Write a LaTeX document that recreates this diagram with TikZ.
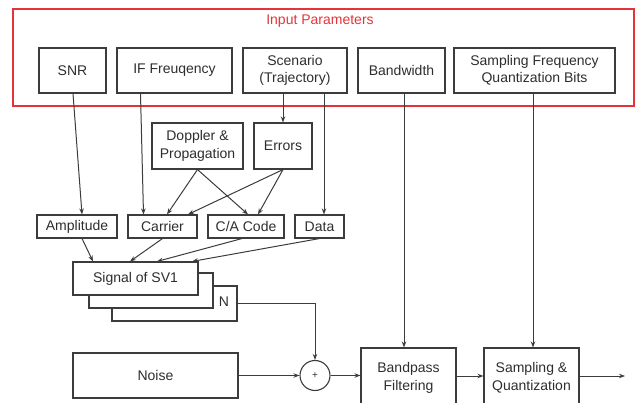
\documentclass[tikz,border=0pt]{standalone}
\usepackage{fontspec}
\setmainfont{Liberation Sans}
\usetikzlibrary{arrows.meta,calc}
\definecolor{ln}{HTML}{3C3C3C}
\definecolor{tx}{HTML}{2E2E2E}
\definecolor{rd}{HTML}{E4343A}
\tikzset{
  box/.style={draw=ln, line width=1.1pt, fill=white, inner sep=0pt, align=center, text=tx,
    font=\fontsize{14}{17.5}\selectfont},
  arr/.style={draw=ln, line width=1pt, -{Stealth[length=6pt,width=4.5pt]}},
}
\begin{document}
\begin{tikzpicture}[x=1pt,y=-1pt]
\useasboundingbox (0,0) rectangle (640,403);
\clip (0,0) rectangle (640,403);
% input parameters frame
\node[draw=rd, line width=1.6pt, minimum width=621pt, minimum height=97pt, inner sep=0pt] (frame) at (323.5,57.5) {};
\node[text=rd, font=\fontsize{14}{17}\selectfont, inner sep=0pt] (title) at (320,21) {Input Parameters};
% top boxes
\node[box, minimum width=67pt, minimum height=45pt] (snr) at (72.5,70.5) {SNR};
\node[box, minimum width=115pt, minimum height=45pt] (if) at (174.5,70.5) {IF Freuqency};
\node[box, minimum width=104pt, minimum height=45pt] (scen) at (295,70.5) {Scenario\\(Trajectory)};
\node[box, minimum width=87pt, minimum height=45pt] (bw) at (401.5,70.5) {Bandwidth};
\node[box, minimum width=161pt, minimum height=45pt] (sf) at (534.5,70.5) {Sampling Frequency\\Quantization Bits};
% middle boxes
\node[box, minimum width=91pt, minimum height=46pt] (dop) at (197.5,146) {Doppler \&\\Propagation};
\node[box, minimum width=58pt, minimum height=46pt] (err) at (283,146) {Errors};
\node[box, minimum width=80pt, minimum height=23pt] (amp) at (77,226.5) {Amplitude};
\node[box, minimum width=69pt, minimum height=23pt] (car) at (162.5,226.5) {Carrier};
\node[box, minimum width=76pt, minimum height=23pt] (ca) at (246,226.5) {C/A Code};
\node[box, minimum width=49pt, minimum height=23pt] (data) at (319.5,226.5) {Data};
% signal stack
\node[box, minimum width=125pt, minimum height=35pt] (sig3) at (174.5,303.5) {};
\node[box, minimum width=124pt, minimum height=35pt] (sig2) at (151,290.5) {};
\node[box, minimum width=125pt, minimum height=33pt] (sig1) at (135.5,278.5) {Signal of SV1};
\node[text=tx, font=\fontsize{14}{17}\selectfont, inner sep=0pt] (nlab) at (224,302) {N};
% bottom chain
\node[box, minimum width=165pt, minimum height=45pt] (noise) at (155.5,375.5) {Noise};
\node[draw=ln, line width=1.1pt, circle, minimum size=30pt, inner sep=0pt, text=tx, font=\fontsize{10}{11}\selectfont] (sum) at (315,375.5) {+};
\node[box, minimum width=95pt, minimum height=60pt] (bp) at (408.5,378) {Bandpass\\Filtering};
\node[box, minimum width=95pt, minimum height=60pt] (sq) at (531.5,378) {Sampling \&\\Quantization};
\coordinate (out) at (625,376);
% connectors from input parameters
\draw[arr] ([xshift=0.5pt]snr.south) -- ([xshift=5pt]amp.north);
\draw[arr] ([xshift=-34pt]if.south) -- ([xshift=-19pt]car.north);
\draw[arr] ([xshift=-12pt]scen.south) -- (err.north);
\draw[arr] ([xshift=29pt]scen.south) -- ([xshift=4.5pt]data.north);
\draw[arr] ([xshift=2.5pt]bw.south) -- ([xshift=2.5pt]bw.south |- bp.north);
\draw[arr] ([xshift=-1.5pt]sf.south) -- ([xshift=-1.5pt]sf.south |- sq.north);
% doppler / errors
\draw[arr] (dop.south) -- ([xshift=4.5pt]car.north);
\draw[arr] (dop.south) -- ([xshift=2pt]ca.north);
\draw[arr] (err.south) -- ([xshift=25.5pt]car.north);
\draw[arr] (err.south) -- ([xshift=12pt]ca.north);
% into signal
\draw[arr] ([xshift=5pt]amp.south) -- ([xshift=-42.5pt]sig1.north);
\draw[arr] (car.south) -- ([xshift=-5.5pt]sig1.north);
\draw[arr] ([xshift=-4pt]ca.south) -- ([xshift=21.5pt]sig1.north);
\draw[arr] (data.south) -- ([xshift=56.5pt]sig1.north);
% signal chain
\draw[arr] (sig3.east) -| (sum.north);
\draw[arr] (noise.east) -- (sum.west);
\draw[arr] (sum.east) -- (sum.east -| bp.west);
\draw[arr] (bp.east |- out) -- (sq.west |- out);
\draw[arr] (sq.east |- out) -- (out);
\end{tikzpicture}
\end{document}
